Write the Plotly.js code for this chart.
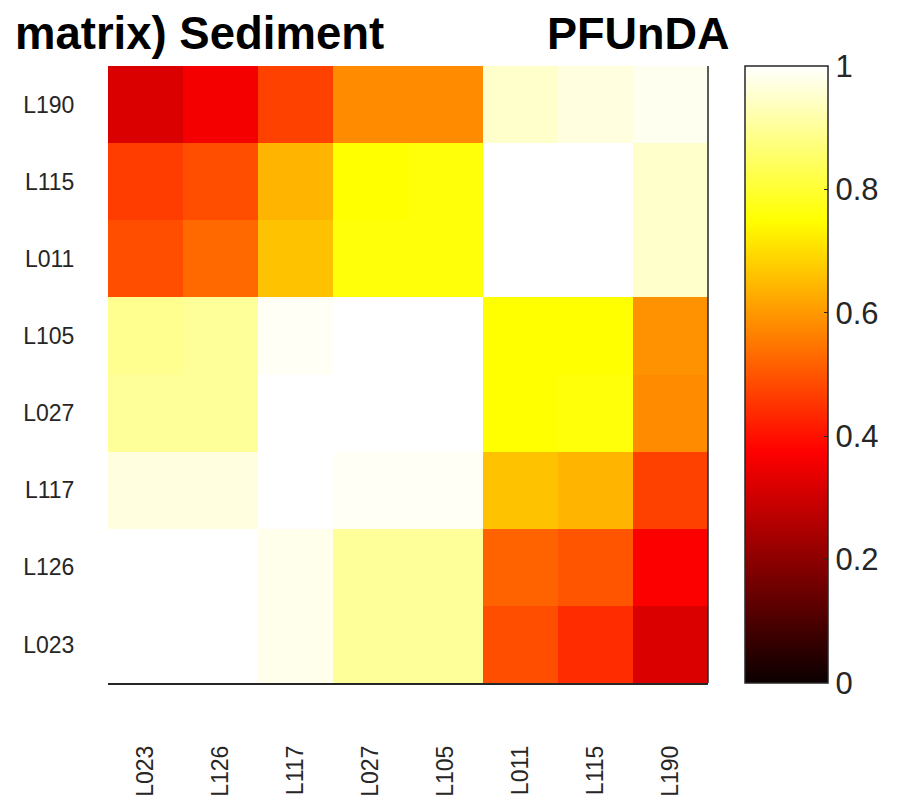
<!DOCTYPE html>
<html>
<head>
<meta charset="utf-8">
<script src="https://cdn.plot.ly/plotly-3.0.1.min.js"></script>
<style>html,body{margin:0;padding:0;background:#fff;}#chart{width:901px;height:796px;}</style>
</head>
<body>
<div id="chart"></div>
<script>
// Categories (x: left to right, y: bottom to top)
var xLabels = ["L023", "L126", "L117", "L027", "L105", "L011", "L115", "L190"];
var yLabels = ["L023", "L126", "L117", "L027", "L105", "L011", "L115", "L190"];

// Matrix rows, one per y label (bottom to top), values across x labels
var rowL023 = [1.00, 1.00, 0.98, 0.90, 0.90, 0.49, 0.44, 0.32];
var rowL126 = [1.00, 1.00, 0.98, 0.90, 0.90, 0.52, 0.50, 0.37];
var rowL117 = [0.97, 0.97, 1.00, 0.99, 0.99, 0.66, 0.64, 0.47];
var rowL027 = [0.90, 0.90, 1.00, 1.00, 1.00, 0.75, 0.76, 0.58];
var rowL105 = [0.89, 0.90, 0.99, 1.00, 1.00, 0.75, 0.75, 0.59];
var rowL011 = [0.49, 0.53, 0.66, 0.76, 0.76, 1.00, 1.00, 0.95];
var rowL115 = [0.465, 0.49, 0.64, 0.75, 0.76, 1.00, 1.00, 0.95];
var rowL190 = [0.32, 0.36, 0.47, 0.58, 0.58, 0.95, 0.97, 0.985];

var colorTicks = [0, 0.2, 0.4, 0.6, 0.8, 1];
var colorTickText = ["0", "0.2", "0.4", "0.6", "0.8", "1"];

var titleLeft = "matrix) Sediment";
var titleRight = "PFUnDA";

var z = [rowL023, rowL126, rowL117, rowL027, rowL105, rowL011, rowL115, rowL190];

var hot = [
  [0, "rgb(10,0,0)"],
  [0.375, "rgb(255,0,0)"],
  [0.75, "rgb(255,255,0)"],
  [1, "rgb(255,255,255)"]
];

var FONT = "Liberation Sans, Arial, Helvetica, sans-serif";
var AX = "#262626";

var trace = {
  type: "heatmap",
  x: xLabels,
  y: yLabels,
  z: z,
  zmin: 0,
  zmax: 1,
  colorscale: hot,
  showscale: true,
  hoverinfo: "x+y+z",
  colorbar: {
    x: (745 - 108) / 600,
    xanchor: "left",
    xpad: 0,
    y: 0.5,
    yanchor: "middle",
    ypad: 0,
    len: 1,
    lenmode: "fraction",
    thickness: 83,
    thicknessmode: "pixels",
    outlinewidth: 1.5,
    outlinecolor: AX,
    tickmode: "array",
    tickvals: colorTicks,
    ticktext: colorTickText,
    ticks: "inside",
    ticklen: 4,
    tickwidth: 1,
    tickcolor: AX,
    ticklabelposition: "outside",
    tickfont: {family: FONT, size: 31, color: AX}
  }
};

var layout = {
  width: 901,
  height: 796,
  margin: {l: 108, r: 193, t: 66, b: 113},
  paper_bgcolor: "#ffffff",
  plot_bgcolor: "#ffffff",
  title: {
    text: "<b>" + titleLeft + "</b>",
    x: 15 / 901,
    xref: "container",
    xanchor: "left",
    y: 1 - 33 / 796,
    yref: "container",
    yanchor: "middle",
    font: {family: FONT, size: 45.5, color: "#000"}
  },
  annotations: [{
    text: "<b>" + titleRight + "</b>",
    xref: "paper", yref: "paper",
    x: (545 - 108) / 600,
    y: 1 + (66 - 33) / 617,
    xanchor: "left", yanchor: "middle",
    showarrow: false,
    font: {family: FONT, size: 45, color: "#000"}
  }],
  xaxis: {
    type: "category",
    categoryorder: "array",
    categoryarray: xLabels,
    tickangle: -90,
    ticks: "outside",
    ticklen: 52,
    tickcolor: "rgba(0,0,0,0)",
    showline: true,
    linecolor: AX,
    linewidth: 1.5,
    showgrid: false,
    zeroline: false,
    tickfont: {family: FONT, size: 23, color: AX}
  },
  yaxis: {
    type: "category",
    categoryorder: "array",
    categoryarray: yLabels,
    ticks: "outside",
    ticklen: 28,
    tickcolor: "rgba(0,0,0,0)",
    showline: false,
    showgrid: false,
    zeroline: false,
    tickfont: {family: FONT, size: 23, color: AX}
  },
  shapes: [{
    type: "line", xref: "paper", yref: "paper",
    x0: 1, x1: 1, y0: 0, y1: 1,
    line: {color: AX, width: 1.5}
  }]
};

Plotly.newPlot("chart", [trace], layout, {displayModeBar: false, staticPlot: true});
</script>
</body>
</html>
